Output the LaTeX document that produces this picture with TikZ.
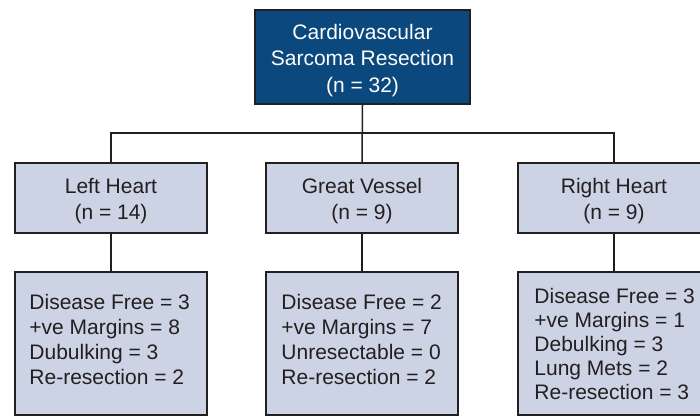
\documentclass[tikz,border=0pt]{standalone}
\usepackage{fontspec}
\setmainfont{Liberation Sans}
\definecolor{topblue}{RGB}{10,72,126}
\definecolor{boxfill}{RGB}{203,211,229}
\definecolor{ink}{RGB}{35,31,32}
\newcommand{\upstrut}{\rule{0pt}{21.5pt}}
\begin{document}
\begin{tikzpicture}[x=1pt,y=-1pt,
  base/.style={draw=ink,line width=1.5pt,rectangle,inner sep=0pt,
    font=\fontsize{21}{25.5}\selectfont,align=center},
  topbox/.style={base,fill=topblue,text=white,minimum width=215pt,minimum height=94pt,
    font=\fontsize{21}{26.5}\selectfont},
  midbox/.style={base,fill=boxfill,text=ink,minimum width=192pt,minimum height=70pt},
  lowbox/.style={base,fill=boxfill,minimum width=192pt,minimum height=143pt},
  lowtext/.style={anchor=west,inner sep=0pt,text=ink,align=left,
    font=\fontsize{21}{25}\selectfont},
  link/.style={draw=ink,line width=1.5pt}]
\clip (0,0) rectangle (700,417);
\fill[white] (0,0) rectangle (700,417);
\node[topbox] (top) at (362.5,57) {\upstrut Cardiovascular\\Sarcoma Resection\\(n = 32)};
\node[midbox] (lh) at (111,198) {\upstrut Left Heart\\(n = 14)};
\node[midbox] (gv) at (362,198) {\upstrut Great Vessel\\(n = 9)};
\node[midbox] (rh) at (614,198) {\upstrut Right Heart\\(n = 9)};
\node[lowbox] (lhb) at (111,343.5) {};
\node[lowbox] (gvb) at (362,343.5) {};
\node[lowbox] (rhb) at (614,343.5) {};
\node[lowtext] (lhd) at ([xshift=15pt,yshift=4pt]lhb.west) {Disease Free = 3\\+ve Margins = 8\\Dubulking = 3\\Re-resection = 2};
\node[lowtext] (gvd) at ([xshift=16pt,yshift=4pt]gvb.west) {Disease Free = 2\\+ve Margins = 7\\Unresectable = 0\\Re-resection = 2};
\node[lowtext,font=\fontsize{21}{24}\selectfont] (rhd) at ([xshift=17pt,yshift=0pt]rhb.west) {Disease Free = 3\\+ve Margins = 1\\Debulking = 3\\Lung Mets = 2\\Re-resection = 3};
\coordinate (split) at (362,133);
\draw[link] (top.south) -- (gv.north);
\draw[link] (lh.north) |- (split) -| (rh.north);
\draw[link] (lh.south) -- (lhb.north);
\draw[link] (gv.south) -- (gvb.north);
\draw[link] (rh.south) -- (rhb.north);
\end{tikzpicture}
\end{document}
